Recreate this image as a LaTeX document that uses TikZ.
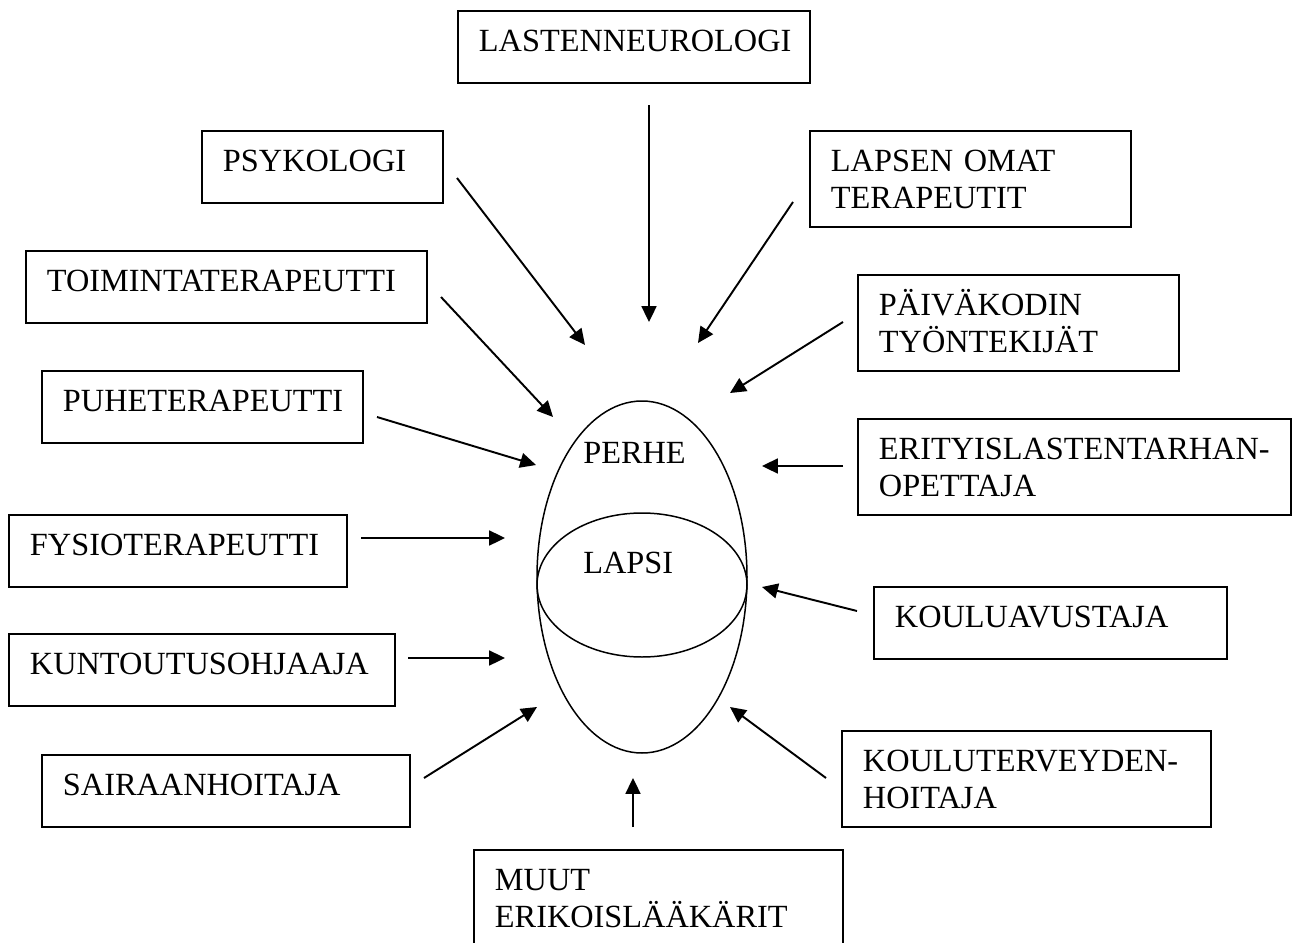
\documentclass[tikz,border=0pt]{standalone}
\usepackage{fontspec}
\setmainfont{Liberation Serif}
\usetikzlibrary{arrows.meta}
\tikzset{
  box/.style={draw, line width=1.1pt, anchor=north west, align=left,
    inner xsep=0.42cm, inner ysep=0pt, text height=0.82cm, text depth=0.62cm,
    font=\fontsize{18.4}{21}\selectfont},
  twoline/.style={text depth=1.1cm},
  word/.style={anchor=base west, inner sep=0pt, font=\fontsize{18.4}{21}\selectfont},
  arrow/.style={line width=1.1pt, -{Triangle[length=9pt,width=8.5pt]}},
  ring/.style={line width=0.85pt}
}
\begin{document}
\begin{tikzpicture}[x=0.02cm, y=-0.02cm]
  \clip (0,0) rectangle (1292,943);

  % boxes round the family
  \node[box, text width=6.2cm]           (neuro) at (457,10)  {LASTENNEUROLOGI};
  \node[box, text width=3.98cm]          (psyk)  at (201,130) {PSYKOLOGI};
  \node[box, twoline, text width=5.58cm] (omat)  at (809,130) {LAPSEN OMAT\\TERAPEUTIT};
  \node[box, text width=7.18cm]          (toim)  at (25,250)  {TOIMINTATERAPEUTTI};
  \node[box, twoline, text width=5.58cm] (paiva) at (857,274) {PÄIVÄKODIN\\TYÖNTEKIJÄT};
  \node[box, text width=5.58cm]          (puhe)  at (41,370)  {PUHETERAPEUTTI};
  \node[box, twoline, text width=7.82cm] (erit)  at (857,418) {ERITYISLASTENTARHAN-\\OPETTAJA};
  \node[box, text width=5.92cm]          (fysio) at (8,514)   {FYSIOTERAPEUTTI};
  \node[box, text width=6.22cm]          (kav)   at (873,586) {KOULUAVUSTAJA};
  \node[box, text width=6.88cm]          (kunt)  at (8,633)   {KUNTOUTUSOHJAAJA};
  \node[box, text width=6.52cm]          (sair)  at (41,754)  {SAIRAANHOITAJA};
  \node[box, twoline, text width=6.54cm] (kter)  at (841,730) {KOULUTERVEYDEN-\\HOITAJA};
  \node[box, twoline, text width=6.54cm] (muut)  at (473,849) {MUUT\\ERIKOISLÄÄKÄRIT};

  % family and child
  \draw[ring] (642,577) ellipse [x radius=105, y radius=176];
  \draw[ring] (642,585) ellipse [x radius=105, y radius=72];
  \node[word] (perhe) at (583,463) {PERHE};
  \node[word] (lapsi) at (583,573) {LAPSI};

  % arrow ends
  \coordinate (neuro-a) at (649,105); \coordinate (neuro-b) at (649,322);
  \coordinate (psyk-a)  at (457,178); \coordinate (psyk-b)  at (585,345);
  \coordinate (omat-a)  at (793,202); \coordinate (omat-b)  at (698,343);
  \coordinate (toim-a)  at (441,297); \coordinate (toim-b)  at (553,417);
  \coordinate (paiva-a) at (843,322); \coordinate (paiva-b) at (730,393);
  \coordinate (puhe-a)  at (377,417); \coordinate (puhe-b)  at (536,465);
  \coordinate (erit-a)  at (843,466); \coordinate (erit-b)  at (762,466);
  \coordinate (fysio-a) at (361,538); \coordinate (fysio-b) at (505,538);
  \coordinate (kav-a)   at (857,611); \coordinate (kav-b)   at (762,587);
  \coordinate (kunt-a)  at (408,658); \coordinate (kunt-b)  at (505,658);
  \coordinate (sair-a)  at (424,778); \coordinate (sair-b)  at (537,707);
  \coordinate (kter-a)  at (826,778); \coordinate (kter-b)  at (730,707);
  \coordinate (muut-a)  at (633,827); \coordinate (muut-b)  at (633,778);

  \foreach \n in {neuro,psyk,omat,toim,paiva,puhe,erit,fysio,kav,kunt,sair,kter,muut}
    \draw[arrow] (\n-a) -- (\n-b);
\end{tikzpicture}
\end{document}
